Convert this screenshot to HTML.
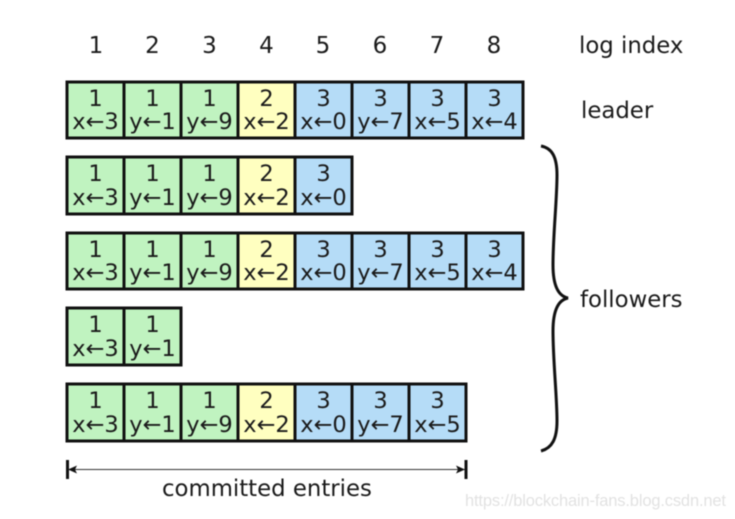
<!DOCTYPE html>
<html>
<head>
<meta charset="utf-8">
<style>
html,body{margin:0;padding:0;background:#fff;width:735px;height:519px;overflow:hidden}
svg{display:block;filter:blur(0.4px)}
text{font-family:"DejaVu Sans",sans-serif;fill:#1a1a1a}
.c text{font-size:22.5px;text-anchor:middle}
.c rect{stroke:#111;stroke-width:3}
.g{fill:#c0f3c0}.y{fill:#ffffc0}.b{fill:#b5dcf7}
.i{font-size:23px;text-anchor:middle}
.l{font-size:22.8px}
</style>
</head>
<body>
<svg width="735" height="519" viewBox="0 0 735 519" xmlns="http://www.w3.org/2000/svg">
<text class="i" x="96" y="53">1</text><text class="i" x="152.5" y="53">2</text><text class="i" x="209.5" y="53">3</text><text class="i" x="266.5" y="53">4</text><text class="i" x="323" y="53">5</text><text class="i" x="380" y="53">6</text><text class="i" x="437" y="53">7</text><text class="i" x="494" y="53">8</text>
<text class="l" x="579" y="53">log index</text>
<text class="l" x="581" y="118">leader</text>
<text class="l" x="580" y="307">followers</text>

<g class="c">
<rect class="g" x="67" y="82" width="57" height="56"/><text x="95.5" y="106">1</text><text x="95.5" y="129">x←3</text>
<rect class="g" x="124" y="82" width="57" height="56"/><text x="152.5" y="106">1</text><text x="152.5" y="129">y←1</text>
<rect class="g" x="181" y="82" width="57" height="56"/><text x="209.5" y="106">1</text><text x="209.5" y="129">y←9</text>
<rect class="y" x="238" y="82" width="57" height="56"/><text x="266.5" y="106">2</text><text x="266.5" y="129">x←2</text>
<rect class="b" x="295" y="82" width="57" height="56"/><text x="323.5" y="106">3</text><text x="323.5" y="129">x←0</text>
<rect class="b" x="352" y="82" width="57" height="56"/><text x="380.5" y="106">3</text><text x="380.5" y="129">y←7</text>
<rect class="b" x="409" y="82" width="57" height="56"/><text x="437.5" y="106">3</text><text x="437.5" y="129">x←5</text>
<rect class="b" x="466" y="82" width="57" height="56"/><text x="494.5" y="106">3</text><text x="494.5" y="129">x←4</text>
</g>

<g class="c">
<rect class="g" x="67" y="157" width="57" height="57"/><text x="95.5" y="181">1</text><text x="95.5" y="205">x←3</text>
<rect class="g" x="124" y="157" width="57" height="57"/><text x="152.5" y="181">1</text><text x="152.5" y="205">y←1</text>
<rect class="g" x="181" y="157" width="57" height="57"/><text x="209.5" y="181">1</text><text x="209.5" y="205">y←9</text>
<rect class="y" x="238" y="157" width="57" height="57"/><text x="266.5" y="181">2</text><text x="266.5" y="205">x←2</text>
<rect class="b" x="295" y="157" width="57" height="57"/><text x="323.5" y="181">3</text><text x="323.5" y="205">x←0</text>
</g>

<g class="c">
<rect class="g" x="67" y="233" width="57" height="56"/><text x="95.5" y="257">1</text><text x="95.5" y="280">x←3</text>
<rect class="g" x="124" y="233" width="57" height="56"/><text x="152.5" y="257">1</text><text x="152.5" y="280">y←1</text>
<rect class="g" x="181" y="233" width="57" height="56"/><text x="209.5" y="257">1</text><text x="209.5" y="280">y←9</text>
<rect class="y" x="238" y="233" width="57" height="56"/><text x="266.5" y="257">2</text><text x="266.5" y="280">x←2</text>
<rect class="b" x="295" y="233" width="57" height="56"/><text x="323.5" y="257">3</text><text x="323.5" y="280">x←0</text>
<rect class="b" x="352" y="233" width="57" height="56"/><text x="380.5" y="257">3</text><text x="380.5" y="280">y←7</text>
<rect class="b" x="409" y="233" width="57" height="56"/><text x="437.5" y="257">3</text><text x="437.5" y="280">x←5</text>
<rect class="b" x="466" y="233" width="57" height="56"/><text x="494.5" y="257">3</text><text x="494.5" y="280">x←4</text>
</g>

<g class="c">
<rect class="g" x="67" y="308" width="57" height="57"/><text x="95.5" y="332">1</text><text x="95.5" y="356">x←3</text>
<rect class="g" x="124" y="308" width="57" height="57"/><text x="152.5" y="332">1</text><text x="152.5" y="356">y←1</text>
</g>

<g class="c">
<rect class="g" x="67" y="384" width="57" height="57"/><text x="95.5" y="408">1</text><text x="95.5" y="432">x←3</text>
<rect class="g" x="124" y="384" width="57" height="57"/><text x="152.5" y="408">1</text><text x="152.5" y="432">y←1</text>
<rect class="g" x="181" y="384" width="57" height="57"/><text x="209.5" y="408">1</text><text x="209.5" y="432">y←9</text>
<rect class="y" x="238" y="384" width="57" height="57"/><text x="266.5" y="408">2</text><text x="266.5" y="432">x←2</text>
<rect class="b" x="295" y="384" width="57" height="57"/><text x="323.5" y="408">3</text><text x="323.5" y="432">x←0</text>
<rect class="b" x="352" y="384" width="57" height="57"/><text x="380.5" y="408">3</text><text x="380.5" y="432">y←7</text>
<rect class="b" x="409" y="384" width="57" height="57"/><text x="437.5" y="408">3</text><text x="437.5" y="432">x←5</text>
</g>

<path d="M541 146 C552 148 557 157 557 175 C557 200 553 235 553 265 C553 285 558 296 568 298 C558 300 553 311 553 331 C553 361 557 396 557 421 C557 439 552 448 541 451" fill="none" stroke="#111" stroke-width="3"/>

<line x1="67" y1="469.5" x2="466" y2="469.5" stroke="#333" stroke-width="1.1"/>
<rect x="66" y="460" width="3" height="19" fill="#111"/>
<rect x="464.5" y="460" width="3" height="19" fill="#111"/>
<path d="M68 469.5 L77 465.5 L75 469.5 L77 473.5 Z" fill="#111"/>
<path d="M465 469.5 L456 465.5 L458 469.5 L456 473.5 Z" fill="#111"/>
<text class="l" x="162" y="496">committed entries</text>

<text x="465" y="506" style="font-family:'Liberation Sans',sans-serif;font-size:16.5px;fill:#e2e2e2" textLength="261">https://blockchain-fans.blog.csdn.net</text>
</svg>
</body>
</html>
